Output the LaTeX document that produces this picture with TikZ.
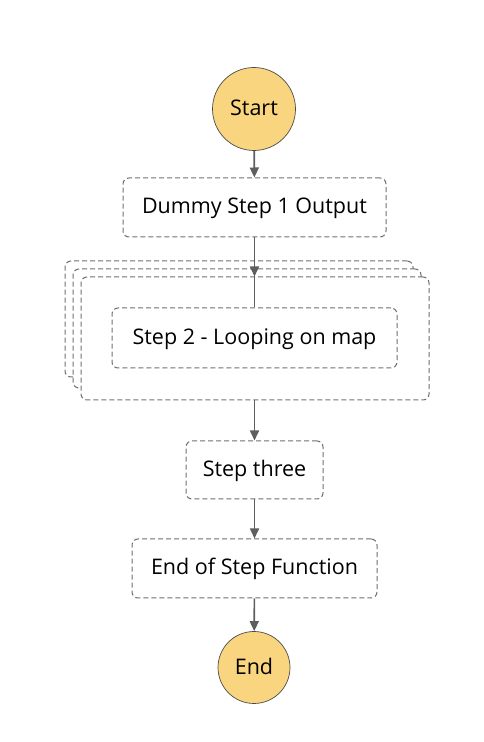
\documentclass[tikz,border=0pt]{standalone}
\usepackage{fontspec}
\setmainfont{Open Sans}
\usetikzlibrary{positioning, arrows.meta}

\definecolor{stateyellow}{HTML}{F8D57E}
\definecolor{edgegray}{HTML}{5E5E5E}
\definecolor{boxgray}{HTML}{707070}

\begin{document}
\begin{tikzpicture}[
  x=1pt, y=1pt,
  >={Triangle[length=10pt, width=9pt]},
  terminal/.style={circle, draw=edgegray!80!black, line width=0.7pt,
    fill=stateyellow, font=\fontsize{21.5}{26}\selectfont, inner sep=0pt,
    text height=15pt, text depth=1pt},
  task/.style={draw=boxgray, dash pattern=on 5pt off 3pt, line width=1pt,
    rounded corners=6pt, fill=white, font=\fontsize{21.5}{26}\selectfont,
    text height=15pt, text depth=2.6pt},
  mapbox/.style={task, minimum width=348pt},
  arr/.style={->, line width=1.6pt, edgegray},
]
\useasboundingbox (0,0) rectangle (484,742);

% === Start ===
\node[terminal, minimum size=83pt] (start) at (254, 633) {Start};

\node[task, minimum width=263pt, minimum height=59pt] (dummy) at (254.5, 534.5)
  {Dummy Step 1 Output};

% === Map state (stacked) ===
\node[mapbox, minimum height=116pt] (map3) at (239, 423) {};
\node[mapbox, minimum height=119pt] (map2) at (247, 413.5) {};
\node[mapbox, minimum height=123pt] (map1) at (255, 403.5) {};

\node[task, minimum width=285pt, minimum height=60pt] (loop) at (254.5, 404)
  {Step 2 - Looping on map};

% === Remaining steps ===
\node[task, minimum width=137pt, minimum height=58pt] (three) at (254.5, 272)
  {Step three};
\node[task, minimum width=245pt, minimum height=59pt] (finish) at (254.5, 173.5)
  {End of Step Function};

\node[terminal, minimum size=72pt] (end) at (254, 74.5) {End};

\draw[arr] (start) -- (dummy);
\draw[arr] (dummy.south) -- (dummy.south |- map1.north);
\draw[line width=1.6pt, edgegray] (dummy.south |- map1.north) -- (loop);
\draw[arr] (map1.south -| loop.south) -- (three);
\draw[arr] (three) -- (finish);
\draw[arr] (finish) -- (end);

\end{tikzpicture}
\end{document}
